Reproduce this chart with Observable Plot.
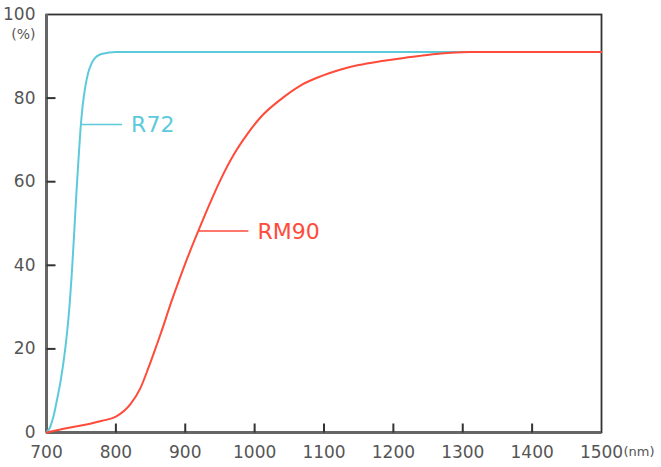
<!DOCTYPE html>
<html><head><meta charset="utf-8">
<script src="https://cdn.jsdelivr.net/npm/d3@7"></script>
<script src="https://cdn.jsdelivr.net/npm/@observablehq/plot@0.6"></script>
<style>body{margin:0;background:#fff}</style>
</head><body><div id="chart"></div>
<script>
// Data (wavelength in nm, transmittance in %)
const r72Nm  = [700, 705, 710, 715, 720, 727, 732, 737, 740, 743, 746, 749, 752, 756, 760, 765, 770, 778, 790, 800, 1500];
const r72Pct = [0, 1.2, 3.8, 7.7, 12, 20, 28, 39.5, 48, 57, 65, 72.5, 78, 82.8, 86, 88.3, 89.6, 90.5, 90.9, 91, 91];
const rm90Nm  = [700, 720, 740, 763, 780, 800, 821, 835, 847, 859, 866, 880, 893, 906, 919, 936, 951, 970, 990, 1008, 1040, 1066, 1095, 1123, 1150, 1181, 1210, 1239, 1265, 1290, 1310, 1500];
const rm90Pct = [0, 0.7, 1.4, 2.1, 2.8, 3.8, 6.8, 10.5, 15.5, 21, 24.3, 31.3, 37.3, 43, 48.3, 55, 60.5, 66.5, 71.5, 75.3, 80, 83, 85.2, 86.8, 87.9, 88.8, 89.5, 90.1, 90.6, 90.9, 91, 91];

const seriesNames  = ["R72", "RM90"];
const seriesColors = ["#5ccadb", "#ff4b3a"];
const labelFromNm = [751, 919];   // leader line starts at the curve
const labelToNm   = [809, 991];   // leader line ends here
const labelPct    = [73.7, 48.2];

const xTicks = [700, 800, 900, 1000, 1100, 1200, 1300, 1400, 1500];
const yTicks = [0, 20, 40, 60, 80, 100];
const xUnit = "(nm)";
const yUnit = "(%)";

const rows = [
  ...r72Nm.map((x, i) => ({series: seriesNames[0], x, y: r72Pct[i]})),
  ...rm90Nm.map((x, i) => ({series: seriesNames[1], x, y: rm90Pct[i]}))
];
const labels = seriesNames.map((name, i) => ({name, color: seriesColors[i], x1: labelFromNm[i], x2: labelToNm[i], y: labelPct[i]}));

const W = 661, H = 467, ML = 46, MR = 60, MT = 14, MB = 35, TICK = 9;
const x0 = xTicks[0], x1 = xTicks[xTicks.length - 1];
const y0 = yTicks[0], y1 = yTicks[yTicks.length - 1];
// tick length converted from pixels to data units
const tickLenY = TICK * (y1 - y0) / (H - MT - MB);
const tickLenX = TICK * (x1 - x0) / (W - ML - MR);
const xTickRows = xTicks.slice(1, -1).map(v => ({a: v, b: v, c: y0, d: y0 + tickLenY}));
const yTickRows = yTicks.slice(1, -1).map(v => ({a: x0, b: x0 + tickLenX, c: v, d: v}));

const font = "DejaVu Sans, sans-serif";
const chart = Plot.plot({
  width: W,
  height: H,
  marginLeft: ML,
  marginRight: MR,
  marginTop: MT,
  marginBottom: MB,
  style: {fontFamily: font, background: "#fff", color: "#555"},
  x: {domain: [x0, x1]},
  y: {domain: [y0, y1]},
  color: {domain: seriesNames, range: seriesColors},
  marks: [
    Plot.frame({stroke: "#333", strokeWidth: 1.8}),
    Plot.axisX({ticks: xTicks, tickSize: 0, tickPadding: 13, fontSize: 17, fill: "#555", label: null, tickFormat: d => String(d)}),
    Plot.axisY({ticks: yTicks, tickSize: 0, tickPadding: 11, fontSize: 17, fill: "#555", label: null, tickFormat: d => String(d)}),
    Plot.text([yUnit], {x: () => x0, y: () => y1, text: d => d, textAnchor: "end", dx: -11, dy: 20, fontSize: 14, fill: "#555"}),
    Plot.text([xUnit], {x: () => x1, y: () => y0, text: d => d, textAnchor: "start", lineAnchor: "top", dx: 22, dy: 14, fontSize: 13, fill: "#555"}),
    Plot.ruleY([y0], {stroke: "#666", strokeWidth: 3}),
    Plot.ruleX([x0], {stroke: "#666", strokeWidth: 3}),
    Plot.line(rows, {x: "x", y: "y", stroke: "series", z: "series", strokeWidth: 2, curve: "monotone-x"}),
    Plot.link(labels, {x1: "x1", x2: "x2", y1: "y", y2: "y", stroke: "color", strokeWidth: 1.5}),
    Plot.text(labels, {x: "x2", y: "y", text: "name", fill: "color", textAnchor: "start", dx: 9, dy: 1, fontSize: 22}),
    // inward tick marks
    Plot.link(xTickRows, {x1: "a", x2: "b", y1: "c", y2: "d", stroke: "#333", strokeWidth: 2}),
    Plot.link(yTickRows, {x1: "a", x2: "b", y1: "c", y2: "d", stroke: "#333", strokeWidth: 2})
  ]
});
document.getElementById("chart").append(chart);
</script>
</body></html>
